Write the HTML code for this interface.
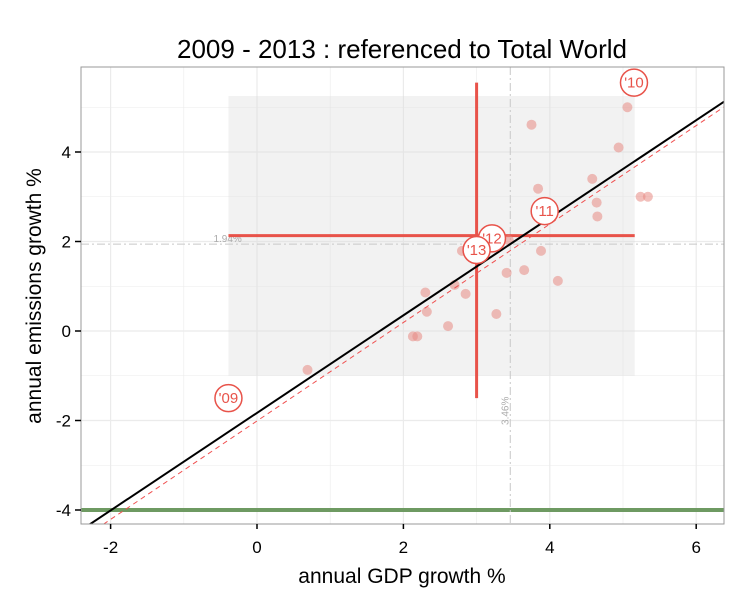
<!DOCTYPE html>
<html><head><meta charset="utf-8"><style>
body{margin:0;background:#fff;}
svg{display:block;font-family:"Liberation Sans",sans-serif;}
</style></head><body>
<svg id="chart" width="754" height="603">
<text x="402" y="58" text-anchor="middle" font-size="26" fill="#000">2009 - 2013 : referenced to Total World</text>
<text x="402" y="583" text-anchor="middle" font-size="21" fill="#000">annual GDP growth %</text>
<text transform="translate(41,296) rotate(-90)" text-anchor="middle" font-size="21" fill="#000">annual emissions growth %</text>
</svg>
<script>
const xTicks=[-2,0,2,4,6];
const yTicks=[-4,-2,0,2,4];
const pointsX=[5.06,3.75,4.94,4.58,3.84,4.64,4.65,5.24,5.34,3.88,3.41,3.65,4.11,2.70,2.30,2.85,2.32,3.27,2.61,2.13,2.19,0.69,2.80,3.44];
const pointsY=[5.00,4.61,4.10,3.40,3.18,2.87,2.56,3.00,3.00,1.79,1.30,1.36,1.12,1.03,0.86,0.83,0.43,0.38,0.11,-0.12,-0.12,-0.87,1.79,2.03];
const yearLabels=["'09","'10","'11","'12","'13"];
const yearX=[-0.39,5.15,3.93,3.21,3.0];
const yearY=[-1.50,5.55,2.68,2.07,1.81];
const meanX=3.0, meanY=2.13;
const rangeX=[-0.39,5.16], rangeY=[-1.0,5.25], crossY=[-1.5,5.55];
const refX=3.46, refY=1.94;
const fitSlope=1.09, fitIntercept=-1.83;
const refSlope=1.10, refIntercept=-2.01;
const baseline=-4;

const L=81,R=724,T=67,B=524;
const sx=v=>257+v*73.2;
const sy=v=>331-v*44.75;
const X0=(L-257)/73.2, X1=(R-257)/73.2;
const svg=document.getElementById('chart');
const NS='http://www.w3.org/2000/svg';
function mk(tag,attrs,parent){const e=document.createElementNS(NS,tag);for(const k in attrs)e.setAttribute(k,attrs[k]);(parent||svg).appendChild(e);return e;}
const panel=mk('g',{});


const clip=mk('clipPath',{id:'cp'});mk('rect',{x:L,y:T,width:R-L,height:B-T},clip);
const g=mk('g',{'clip-path':'url(#cp)'},panel);
for(let v=-3;v<=7;v++){const gl=mk('line',{x1:sx(v),x2:sx(v),y1:T,y2:B,stroke:'#ebebeb','stroke-width':v%2==0?1.2:0.6},g);}
for(let v=-5;v<=6;v++){const gl=mk('line',{x1:L,x2:R,y1:sy(v),y2:sy(v),stroke:'#ebebeb','stroke-width':v%2==0?1.2:0.6},g);}
const rr=mk('rect',{x:sx(rangeX[0]),y:sy(rangeY[1]),width:sx(rangeX[1])-sx(rangeX[0]),height:sy(rangeY[0])-sy(rangeY[1]),fill:'#d9d9d9','fill-opacity':0.35},g);

const gl2=mk('line',{x1:L,x2:R,y1:sy(baseline),y2:sy(baseline),stroke:'#6e9a62','stroke-width':4},g);

const rvx=mk('line',{x1:sx(refX),x2:sx(refX),y1:T,y2:B,stroke:'#c8c8c8','stroke-dasharray':'8 3 2 3'},g);

const rvy=mk('line',{x1:L,x2:R,y1:sy(refY),y2:sy(refY),stroke:'#c8c8c8','stroke-dasharray':'8 3 2 3'},g);

const t1=mk('text',{x:sx(rangeX[0])-15,y:sy(refY)-2,'font-size':10,fill:'#aaa'},g);t1.textContent=refY.toFixed(2)+'%';

const t2=mk('text',{transform:`translate(${sx(refX)-2},${sy(-2.1)}) rotate(-90)`,'font-size':10,fill:'#aaa'},g);t2.textContent=refX.toFixed(2)+'%';

const ch=mk('line',{x1:sx(rangeX[0]),x2:sx(rangeX[1]),y1:sy(meanY),y2:sy(meanY),stroke:'#e8534a','stroke-width':3},g);

const cv=mk('line',{x1:sx(meanX),x2:sx(meanX),y1:sy(crossY[1]),y2:sy(crossY[0]),stroke:'#e8534a','stroke-width':3},g);

for(let i=0;i<pointsX.length;i++){const c=mk('circle',{cx:sx(pointsX[i]),cy:sy(pointsY[i]),r:5,fill:'#e88a84','fill-opacity':0.55},g);
}
const fl=mk('line',{x1:sx(X0),x2:sx(X1),y1:sy(fitIntercept+fitSlope*X0),y2:sy(fitIntercept+fitSlope*X1),stroke:'#000','stroke-width':2},g);

const dl=mk('line',{x1:sx(X0),x2:sx(X1),y1:sy(refIntercept+refSlope*X0),y2:sy(refIntercept+refSlope*X1),stroke:'#f05050','stroke-width':1,'stroke-dasharray':'5 4'},g);

for(let i=0;i<yearLabels.length;i++){const cx=sx(yearX[i]),cy=sy(yearY[i]);
const c=mk('circle',{cx:cx,cy:cy,r:13.5,fill:'#fff',stroke:'#e8534a','stroke-width':1.5},g);

const t=mk('text',{x:cx,y:cy+5,'text-anchor':'middle','font-size':15,fill:'#e8534a'},g);t.textContent=yearLabels[i];
}
const br=mk('rect',{x:L,y:T,width:R-L,height:B-T,fill:'none',stroke:'#999','stroke-width':1},panel);

xTicks.forEach(v=>{const tk=mk('line',{x1:sx(v),x2:sx(v),y1:B,y2:B+5,stroke:'#000','stroke-width':1.5});
const t=mk('text',{x:sx(v),y:B+29,'text-anchor':'middle','font-size':17,fill:'#000'});t.textContent=v;});
yTicks.forEach(v=>{const tk=mk('line',{x1:L-6,x2:L,y1:sy(v),y2:sy(v),stroke:'#000','stroke-width':1.5});
const t=mk('text',{x:L-10,y:sy(v)+6,'text-anchor':'end','font-size':17,fill:'#000'});t.textContent=v;});
</script>
</body></html>
